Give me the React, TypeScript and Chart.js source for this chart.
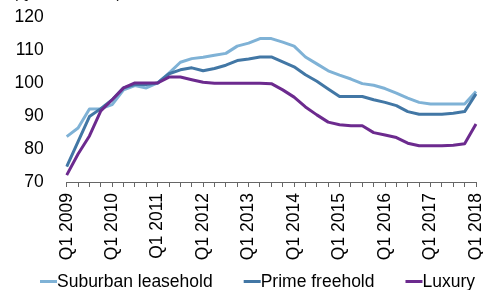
import React, { useEffect, useRef } from "react";
import { Chart, registerables } from "chart.js";

Chart.register(...registerables);

const quarters: string[] = [];
for (let y = 2009; y <= 2018; y++) {
  for (let q = 1; q <= 4; q++) {
    if (y === 2018 && q > 1) break;
    quarters.push(`Q${q} ${y}`);
  }
}

const suburbanLeasehold = [
  83.8, 86.4, 92.2, 92.3, 93.5, 98.0, 99.3, 98.6, 100.1, 103.1, 106.4, 107.5,
  107.9, 108.5, 109.1, 111.3, 112.2, 113.6, 113.6, 112.5, 111.3, 108.0, 105.9,
  103.8, 102.5, 101.3, 99.9, 99.4, 98.4, 97.0, 95.5, 94.2, 93.7, 93.7, 93.7,
  93.7, 97.5,
];
const primeFreehold = [
  74.7, 82.3, 89.9, 92.3, 95.0, 98.6, 99.6, 99.6, 100.1, 102.9, 104.1, 104.7,
  103.8, 104.5, 105.5, 106.9, 107.4, 108.0, 108.0, 106.5, 105.0, 102.6, 100.6,
  98.3, 96.0, 96.0, 96.0, 95.0, 94.2, 93.2, 91.4, 90.6, 90.6, 90.6, 90.9, 91.4,
  96.8,
];
const luxury = [
  72.1, 78.5, 84.0, 91.6, 95.0, 98.6, 100.1, 100.1, 100.1, 101.9, 101.9, 101.1,
  100.3, 100.0, 100.0, 100.0, 100.0, 100.0, 99.9, 98.0, 95.8, 92.8, 90.4, 88.2,
  87.4, 87.1, 87.1, 85.0, 84.3, 83.5, 81.8, 81.0, 81.0, 81.0, 81.2, 81.6, 87.6,
];

const seriesNames = ["Suburban leasehold", "Prime freehold", "Luxury"];
const seriesColors = ["#7FB2D6", "#4277A5", "#6C2A8E"];
const yTicks = { min: 70, max: 120, step: 10 };
const subtitle = "(Q1 2011 = 100)";

const FONT = '"Liberation Sans", Arial, sans-serif';
const FONT_SIZE = 17.5;
const TEXT_COLOR = "#000000";
const AXIS_COLOR = "#666666";

const overlayPlugin = {
  id: "overlay",
  afterDraw(chart: any) {
    const ctx = chart.ctx as CanvasRenderingContext2D;
    ctx.save();
    // cropped subtitle at the very top
    ctx.font = `15px ${FONT}`;
    ctx.fillStyle = TEXT_COLOR;
    ctx.textBaseline = "alphabetic";
    ctx.textAlign = "left";
    ctx.fillText(subtitle, 13, -2.5);
    // legend
    ctx.font = `${FONT_SIZE}px ${FONT}`;
    let x = 40;
    const baseY = 287;
    const lineY = 281.5;
    chart.data.datasets.forEach((ds: any) => {
      ctx.strokeStyle = ds.borderColor;
      ctx.lineWidth = 3;
      ctx.beginPath();
      ctx.moveTo(x, lineY);
      ctx.lineTo(x + 17, lineY);
      ctx.stroke();
      x += 17;
      ctx.fillStyle = TEXT_COLOR;
      ctx.fillText(ds.label, x, baseY);
      x += ctx.measureText(ds.label).width + 31;
    });
    ctx.restore();
  },
};

export default function App() {
  const ref = useRef<HTMLCanvasElement | null>(null);
  useEffect(() => {
    if (!ref.current) return;
    const values = [suburbanLeasehold, primeFreehold, luxury];
    const chart = new Chart(ref.current, {
      type: "line",
      data: {
        labels: quarters,
        datasets: values.map((v, i) => ({
          label: seriesNames[i],
          data: v,
          borderColor: seriesColors[i],
          backgroundColor: seriesColors[i],
          borderWidth: 3,
          pointRadius: 0,
          tension: 0,
          borderJoinStyle: "round" as const,
          order: 2 - i,
        })),
      },
      options: {
        responsive: false,
        animation: false,
        devicePixelRatio: 1,
        layout: { padding: { top: 17.5, right: 7, left: 0, bottom: 0 } },
        plugins: {
          legend: { display: false },
          tooltip: { enabled: false },
        },
        scales: {
          x: {
            type: "category",
            offset: false,
            grid: {
              display: true,
              drawOnChartArea: false,
              drawTicks: true,
              tickLength: 5,
              color: AXIS_COLOR,
              lineWidth: 1,
            },
            border: { display: true, color: AXIS_COLOR, width: 1 },
            ticks: {
              autoSkip: false,
              minRotation: 90,
              maxRotation: 90,
              padding: 6,
              color: TEXT_COLOR,
              font: { family: FONT, size: FONT_SIZE },
              callback: (_v: any, i: number) =>
                quarters[i].startsWith("Q1") ? quarters[i] : "",
            },
            afterFit: (scale: any) => {
              scale.height = 108;
              scale.paddingLeft = 0;
              scale.paddingRight = 0;
            },
          },
          y: {
            min: yTicks.min,
            max: yTicks.max,
            grid: { display: false },
            border: { display: false },
            ticks: {
              stepSize: yTicks.step,
              padding: 15,
              color: TEXT_COLOR,
              font: { family: FONT, size: FONT_SIZE },
            },
            afterFit: (scale: any) => {
              scale.width = 66.7;
              scale.paddingTop = 0;
              scale.paddingBottom = 0;
            },
          },
        },
      },
      plugins: [overlayPlugin],
    });
    return () => chart.destroy();
  }, []);
  return (
    <div style={{ position: "fixed", left: 0, top: 0, width: 483, height: 290, background: "#fff" }}>
      <canvas ref={ref} width={483} height={290} />
    </div>
  );
}
